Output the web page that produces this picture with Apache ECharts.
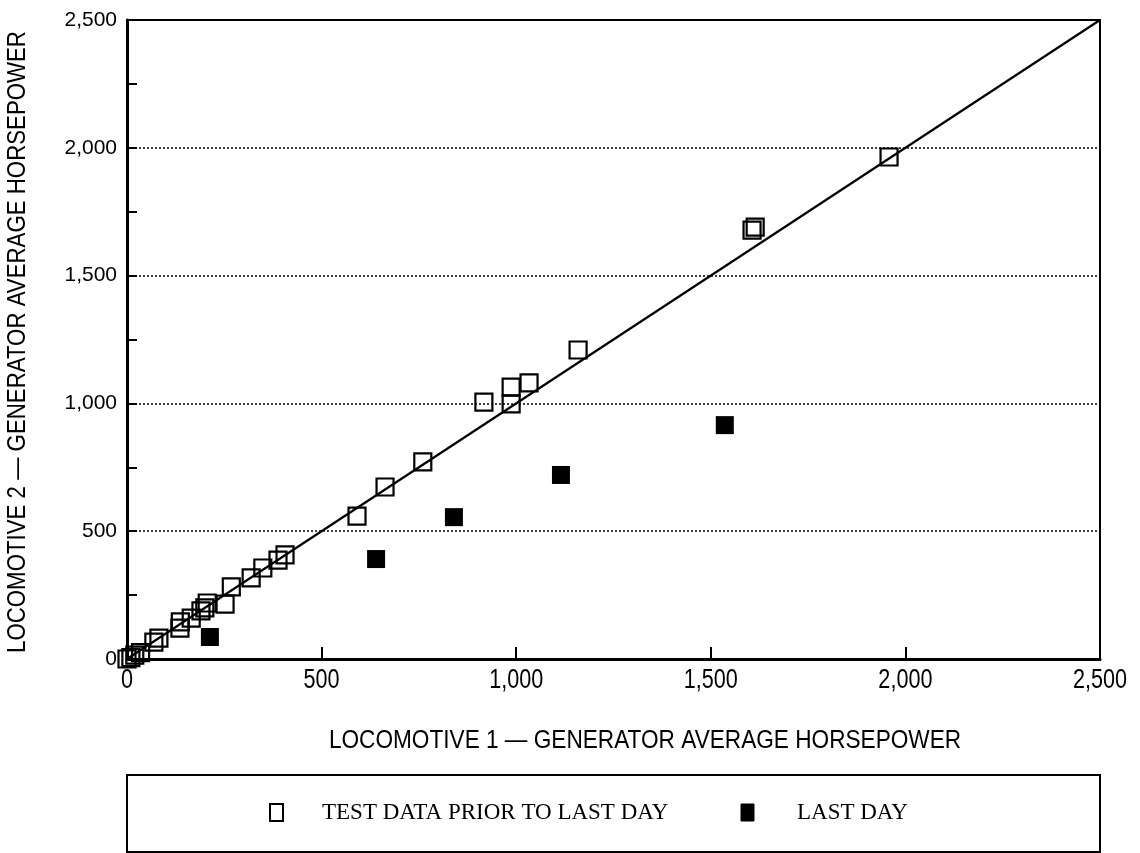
<!DOCTYPE html>
<html>
<head>
<meta charset="utf-8">
<script src="https://cdn.jsdelivr.net/npm/echarts@6/dist/echarts.min.js"></script>
<style>
  html, body { margin: 0; padding: 0; background: #fff; }
  #chart { width: 1140px; height: 853px; }
</style>
</head>
<body>
<div id="chart"></div>
<script>
// Generator average horsepower, locomotive 1 (x) vs locomotive 2 (y)
const seriesNames = ['TEST DATA PRIOR TO LAST DAY', 'LAST DAY'];
const priorX = [0, 10, 20, 35, 69, 82, 136, 137, 165, 190, 200, 206, 252, 268, 319, 349, 388, 406, 591, 663, 760, 917, 987, 987, 1033, 1159, 1606, 1614, 1958];
const priorY = [0, 5, 15, 25, 66, 82, 121, 145, 160, 188, 200, 219, 215, 282, 317, 356, 387, 407, 559, 673, 771, 1005, 998, 1064, 1080, 1209, 1678, 1690, 1964];
const lastX = [213, 640, 840, 1115, 1536];
const lastY = [86, 391, 555, 720, 915];
// 1:1 reference line end points
const equalityLine = [0, 2500];
const axisTicks = [0, 500, 1000, 1500, 2000, 2500];
const xTitle = 'LOCOMOTIVE 1 — GENERATOR AVERAGE HORSEPOWER';
const yTitle = 'LOCOMOTIVE 2 — GENERATOR AVERAGE HORSEPOWER';

const fmt = v => v.toLocaleString('en-US');
const zip = (xs, ys) => xs.map((x, i) => [x, ys[i]]);

const chart = echarts.init(document.getElementById('chart'), null, { renderer: 'canvas' });

const sans = "'Liberation Sans', Arial, sans-serif";
const serif = "'Liberation Serif', 'Times New Roman', serif";

chart.setOption({
  animation: false,
  backgroundColor: '#fff',
  grid: {
    left: 127, right: 40, top: 20, bottom: 194,
    show: true, borderColor: '#000', borderWidth: 2, backgroundColor: 'transparent'
  },
  xAxis: {
    type: 'value', min: axisTicks[0], max: axisTicks[axisTicks.length - 1], interval: 500,
    axisLine: { show: true, onZero: false, lineStyle: { color: '#000', width: 3 } },
    axisTick: { show: true, inside: true, length: 12, lineStyle: { color: '#000', width: 2 } },
    // tick labels are drawn as condensed graphic text below
    axisLabel: { show: false },
    splitLine: { show: false }
  },
  yAxis: {
    type: 'value', min: axisTicks[0], max: axisTicks[axisTicks.length - 1], interval: 500,
    axisLine: { show: true, onZero: false, lineStyle: { color: '#000', width: 3 } },
    axisTick: { show: true, inside: true, length: 10, lineStyle: { color: '#000', width: 2 } },
    minorTick: { show: true, splitNumber: 2, length: 10, lineStyle: { color: '#000', width: 2 } },
    axisLabel: { color: '#000', fontFamily: sans, fontSize: 21, margin: 10, formatter: fmt },
    splitLine: { show: true, lineStyle: { color: '#000', width: 1.5, type: [2, 2] } }
  },
  series: [
    {
      name: 'equality', type: 'line', silent: true, symbol: 'none',
      data: zip(equalityLine, equalityLine),
      lineStyle: { color: '#000', width: 2.2 }, z: 1
    },
    {
      name: seriesNames[0], type: 'scatter', symbol: 'rect', symbolSize: 17,
      data: zip(priorX, priorY),
      itemStyle: { color: 'rgba(0,0,0,0)', borderColor: '#000', borderWidth: 2.2, opacity: 1 }, z: 3
    },
    {
      name: seriesNames[1], type: 'scatter', symbol: 'rect', symbolSize: 18,
      data: zip(lastX, lastY),
      itemStyle: { color: '#000', opacity: 1 }, z: 3
    }
  ]
});

// condensed x tick labels placed with the axis scale
const baseY = chart.convertToPixel({ yAxisIndex: 0 }, axisTicks[0]);
const xLabelGraphics = axisTicks.map((v, i) => ({
  type: 'text', id: 'xl' + i,
  x: chart.convertToPixel({ xAxisIndex: 0 }, v), y: baseY + 8,
  scaleX: 0.8,
  style: { text: fmt(v), fill: '#000', font: '27px ' + sans, align: 'center', verticalAlign: 'top' }
}));

chart.setOption({
  graphic: xLabelGraphics.concat([
    {
      type: 'text', id: 'xTitle', x: 645, y: 741, scaleX: 0.87, z: 10,
      style: { text: xTitle, fill: '#000', font: '26px ' + sans, align: 'center', verticalAlign: 'middle' }
    },
    {
      type: 'text', id: 'yTitle', x: 18, y: 342, rotation: Math.PI / 2, scaleX: 0.89, z: 10,
      style: { text: yTitle, fill: '#000', font: '25px ' + sans, align: 'center', verticalAlign: 'middle' }
    },
    // legend frame and entries
    {
      type: 'rect', id: 'legendBox', shape: { x: 127, y: 775, width: 973, height: 77 },
      style: { fill: 'none', stroke: '#000', lineWidth: 2 }
    },
    {
      type: 'rect', id: 'legendIcon0', shape: { x: 270, y: 804, width: 13, height: 17 },
      style: { fill: 'none', stroke: '#000', lineWidth: 2 }
    },
    {
      type: 'text', id: 'legendText0', x: 322, y: 813,
      style: { text: seriesNames[0], fill: '#000', font: '23px ' + serif, verticalAlign: 'middle' }
    },
    {
      type: 'rect', id: 'legendIcon1', shape: { x: 741, y: 804, width: 13, height: 17 },
      style: { fill: '#000', stroke: '#000', lineWidth: 1 }
    },
    {
      type: 'text', id: 'legendText1', x: 797, y: 813,
      style: { text: seriesNames[1], fill: '#000', font: '23px ' + serif, verticalAlign: 'middle' }
    }
  ])
});
</script>
</body>
</html>
